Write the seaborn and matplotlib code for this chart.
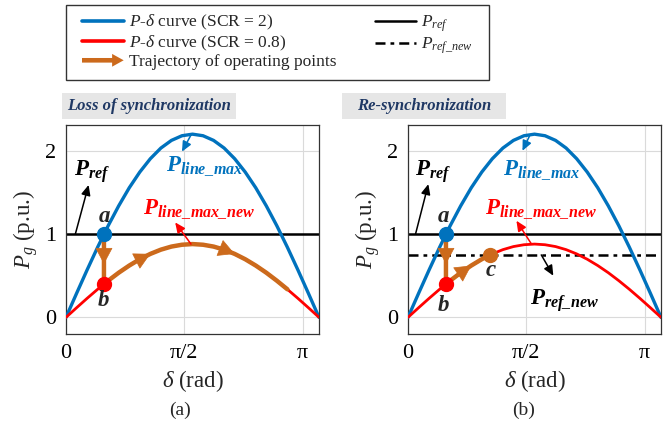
import numpy as np
import pandas as pd
import seaborn as sns
import matplotlib
matplotlib.use("Agg")
import matplotlib.pyplot as plt
import matplotlib.patches as mpatches
from matplotlib.lines import Line2D
from matplotlib.legend_handler import HandlerPatch

# ---------------- data ----------------
delta = [0.00, 0.14, 0.28, 0.42, 0.56, 0.70, 0.84, 0.98, 1.12, 1.26, 1.40, 1.54, 1.68,
         1.82, 1.96, 2.10, 2.24, 2.38, 2.52, 2.66, 2.80, 2.94, 3.08, 3.22, 3.36]
p_scr2 = [0.000, 0.287, 0.569, 0.842, 1.100, 1.339, 1.556, 1.745, 1.905, 2.033, 2.125, 2.181, 2.200,
          2.181, 2.125, 2.033, 1.905, 1.745, 1.556, 1.339, 1.100, 0.842, 0.569, 0.287, 0.000]
p_scr08 = [0.000, 0.115, 0.228, 0.337, 0.440, 0.536, 0.622, 0.698, 0.762, 0.813, 0.850, 0.872, 0.880,
           0.872, 0.850, 0.813, 0.762, 0.698, 0.622, 0.536, 0.440, 0.337, 0.228, 0.115, 0.000]
p_ref = 1.0
p_ref_new = 0.75
delta_ab = 0.504
p_a = 1.0
p_b = 0.40
delta_c = 1.094
p_c = 0.752

xtick_vals = [0, np.pi / 2, np.pi]
xtick_labels = ["0", "π/2", "π"]
ytick_vals = [0, 1, 2]
ytick_labels = ["0", "1", "2"]

legend_labels = [r"$P$-$\delta$ curve (SCR = 2)", r"$P$-$\delta$ curve (SCR = 0.8)",
                 "Trajectory of operating points", r"$P_{ref}$", r"$P_{ref\_new}$"]
panel_titles = ["Loss of synchronization", "Re-synchronization"]
captions = ["(a)", "(b)"]

# ---------------- style ----------------
BLUE = "#0072BD"
RED = "#FF0000"
ORANGE = "#CC6A1C"
TITLE_BLUE = "#1F3864"

sns.set_theme(style="white")
plt.rcParams["font.family"] = ["Liberation Serif", "DejaVu Serif"]
plt.rcParams["mathtext.fontset"] = "custom"
plt.rcParams["mathtext.rm"] = "Liberation Serif"
plt.rcParams["mathtext.it"] = "Liberation Serif:italic"
plt.rcParams["mathtext.bf"] = "Liberation Serif:bold:italic"

fig = plt.figure(figsize=(6.69, 4.24), dpi=100)
W, H = 669, 424


def fx(px):
    return px / W


def fy(py):
    return 1 - py / H


ax_l = fig.add_axes([fx(66), fy(334), fx(319) - fx(66), fy(125) - fy(334)])
ax_r = fig.add_axes([fx(408), fy(334), fx(661) - fx(408), fy(125) - fy(334)])

df = pd.DataFrame({"delta": delta, "scr2": p_scr2, "scr08": p_scr08})
ANN = 16.5


def arrowhead(ax, tail, head, color, ms=18):
    ax.annotate("", xy=head, xytext=tail,
                arrowprops=dict(arrowstyle="-|>,head_length=0.6,head_width=0.32",
                                color=color, lw=0.5, mutation_scale=ms,
                                shrinkA=0, shrinkB=0), zorder=6)


def pointer(ax, tail, head, color):
    ax.annotate("", xy=head, xytext=tail,
                arrowprops=dict(arrowstyle="-|>,head_length=0.55,head_width=0.25",
                                color=color, lw=1.1, mutation_scale=11,
                                shrinkA=0, shrinkB=0), zorder=7)


def base_axes(ax):
    ax.set_xlim(0, 3.36)
    ax.set_ylim(-0.2, 2.31)
    ax.set_xticks(xtick_vals)
    ax.set_xticklabels(xtick_labels)
    ax.set_yticks(ytick_vals)
    ax.set_yticklabels(ytick_labels)
    ax.tick_params(direction="in", length=4, width=0.8, labelsize=16, pad=7,
                   colors="#222222", labelcolor="black", top=False, right=False)
    ax.grid(True, color="#DADADA", lw=0.8)
    for s in ax.spines.values():
        s.set_color("#333333")
        s.set_linewidth(0.9)
    sns.lineplot(data=df, x="delta", y="scr2", ax=ax, color=BLUE, lw=2.4,
                 sort=False, estimator=None, zorder=3)
    sns.lineplot(data=df, x="delta", y="scr08", ax=ax, color=RED, lw=2.0,
                 sort=False, estimator=None, zorder=3)
    ax.axhline(p_ref, color="black", lw=1.8, zorder=2)
    ax.set_xlabel(r"$\delta$ (rad)", fontsize=16.5)
    ax.set_ylabel(r"$P_g$ (p.u.)", fontsize=16.5)
    ax.xaxis.set_label_coords(0.5, -0.165)
    ax.yaxis.set_label_coords(-0.103, 0.5)


# ---------------- left panel ----------------
ax = ax_l
base_axes(ax)
traj_x = [delta_ab, delta_ab] + delta[4:22]
traj_y = [p_a, p_b] + p_scr08[4:22]
sns.lineplot(x=traj_x, y=traj_y, ax=ax, color=ORANGE, lw=3.2, sort=False,
             estimator=None, zorder=4)
arrowhead(ax, (delta_ab, 0.80), (delta_ab, 0.64), ORANGE)
arrowhead(ax, (delta[7], p_scr08[7]), (delta[8], p_scr08[8]), ORANGE)
arrowhead(ax, (delta[15], p_scr08[15]), (delta[16], p_scr08[16]), ORANGE)
ax.plot([delta_ab], [p_a], "o", color=BLUE, ms=10, zorder=8)
ax.plot([delta_ab], [p_b], "o", color=RED, ms=10, zorder=8)
pointer(ax, (0.124, 1.0), (0.30, 1.59), "black")
pointer(ax, (1.66, 2.19), (1.54, 1.99), BLUE)
pointer(ax, (1.66, 0.88), (1.45, 1.14), RED)
ax.text(0.35, 1.75, r"$\mathbf{P}_{\mathbf{ref}}$", fontsize=ANN, ha="center", va="center", color="black", zorder=9)
ax.text(1.84, 1.81, r"$\mathbf{P}_{\mathbf{line\_max}}$", fontsize=ANN, ha="center", va="center", color=BLUE, zorder=9)
ax.text(1.77, 1.30, r"$\mathbf{P}_{\mathbf{line\_max\_new}}$", fontsize=ANN, ha="center", va="center", color=RED, zorder=9)
ax.text(0.51, 1.21, r"$\mathbf{a}$", fontsize=ANN, ha="center", va="center", zorder=9)
ax.text(0.49, 0.20, r"$\mathbf{b}$", fontsize=ANN, ha="center", va="center", zorder=9)

# ---------------- right panel ----------------
ax = ax_r
base_axes(ax)
ax.axhline(p_ref_new, color="black", lw=1.8, dashes=(4, 2, 1.5, 2), zorder=2)
traj_x = [delta_ab, delta_ab] + delta[4:8] + [delta_c]
traj_y = [p_a, p_b] + p_scr08[4:8] + [p_c]
sns.lineplot(x=traj_x, y=traj_y, ax=ax, color=ORANGE, lw=3.2, sort=False,
             estimator=None, zorder=4)
arrowhead(ax, (delta_ab, 0.80), (delta_ab, 0.64), ORANGE)
arrowhead(ax, (delta[5], p_scr08[5]), (delta[6], p_scr08[6]), ORANGE)
ax.plot([delta_ab], [p_a], "o", color=BLUE, ms=10, zorder=8)
ax.plot([delta_ab], [p_b], "o", color=RED, ms=10, zorder=8)
ax.plot([delta_c], [p_c], "o", color=ORANGE, ms=10, zorder=8)
pointer(ax, (0.10, 1.0), (0.27, 1.60), "black")
pointer(ax, (1.62, 2.19), (1.52, 2.00), BLUE)
pointer(ax, (1.64, 0.88), (1.44, 1.16), RED)
pointer(ax, (1.77, 0.75), (1.93, 0.50), "black")
ax.text(0.33, 1.75, r"$\mathbf{P}_{\mathbf{ref}}$", fontsize=ANN, ha="center", va="center", color="black", zorder=9)
ax.text(1.77, 1.77, r"$\mathbf{P}_{\mathbf{line\_max}}$", fontsize=ANN, ha="center", va="center", color=BLUE, zorder=9)
ax.text(1.77, 1.30, r"$\mathbf{P}_{\mathbf{line\_max\_new}}$", fontsize=ANN, ha="center", va="center", color=RED, zorder=9)
ax.text(2.08, 0.20, r"$\mathbf{P}_{\mathbf{ref\_new}}$", fontsize=ANN, ha="center", va="center", color="black", zorder=9)
ax.text(0.47, 1.21, r"$\mathbf{a}$", fontsize=ANN, ha="center", va="center", zorder=9)
ax.text(0.47, 0.14, r"$\mathbf{b}$", fontsize=ANN, ha="center", va="center", zorder=9)
ax.text(1.10, 0.56, r"$\mathbf{c}$", fontsize=ANN, ha="center", va="center", zorder=9)

# ---------------- captions ----------------
fig.text(fx(180), fy(410), captions[0], fontsize=14, ha="center", va="center")
fig.text(fx(524), fy(410), captions[1], fontsize=14, ha="center", va="center")

# ---------------- panel title boxes ----------------
for (x0, x1), title in zip([(62, 236), (342, 506)], panel_titles):
    fig.patches.append(mpatches.Rectangle((fx(x0), fy(119)), fx(x1) - fx(x0), fy(93) - fy(119),
                                          transform=fig.transFigure, fc="#E6E6E6", ec="none"))
    fig.text(fx((x0 + x1) / 2), fy(106), title, fontsize=12, fontweight="bold",
             fontstyle="italic", color=TITLE_BLUE, ha="center", va="center")


# ---------------- legend ----------------
class HandlerArrow(HandlerPatch):
    def create_artists(self, legend, orig_handle, xdescent, ydescent, width, height, fontsize, trans):
        p = mpatches.FancyArrow(-xdescent, -ydescent + height / 2, width, 0,
                                width=height * 0.38, head_width=height * 1.05,
                                head_length=height * 0.95, length_includes_head=True,
                                color=ORANGE, lw=0)
        p.set_transform(trans)
        return [p]


arrow_proxy = mpatches.FancyArrow(0, 0, 1, 0, color=ORANGE)
handles = [Line2D([], [], color=BLUE, lw=2.6),
           Line2D([], [], color=RED, lw=2.6),
           arrow_proxy,
           Line2D([], [], color="black", lw=1.8),
           Line2D([], [], color="black", lw=1.8, dashes=(4, 2, 1.5, 2))]
fig.patches.append(mpatches.Rectangle((fx(66), fy(80)), fx(489) - fx(66), fy(5) - fy(80),
                                      transform=fig.transFigure, fc="white", ec="#333333", lw=1.0))
leg = fig.legend(handles, legend_labels, ncol=2, loc="upper left",
                 bbox_to_anchor=(fx(82), fy(13)), fontsize=12.5, frameon=False,
                 handlelength=2.4, handletextpad=0.3, columnspacing=2.2,
                 labelspacing=0.08, borderpad=0.0, borderaxespad=0.0,
                 handler_map={arrow_proxy: HandlerArrow()})

fig.savefig("out.png", dpi=100)
